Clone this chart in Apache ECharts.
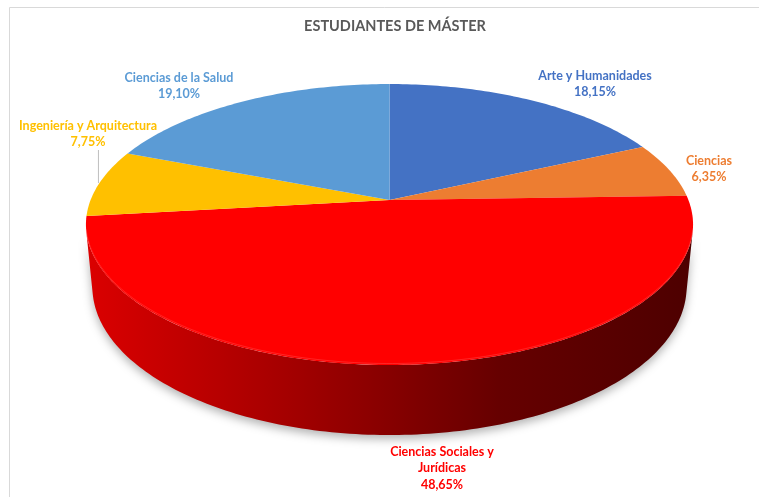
<!DOCTYPE html>
<html>
<head>
<meta charset="utf-8">
<script src="https://cdn.jsdelivr.net/npm/echarts@6/dist/echarts.min.js"></script>
<style>
  html, body { margin: 0; background: #fff; }
  #chart { width: 759px; height: 497px; }
</style>
</head>
<body>
<div id="chart"></div>
<script>
// data
const categories = ['Arte y Humanidades', 'Ciencias', 'Ciencias Sociales y Jurídicas', 'Ingeniería y Arquitectura', 'Ciencias de la Salud'];
const shares = [18.15, 6.35, 48.65, 7.75, 19.10];
const colors = ['#4472C4', '#ED7D31', '#FF0000', '#FFC000', '#5B9BD5'];

// label layout (center x, center y of the text block)
const labelAt = [[595, 84], [709, 169], [442, 468], [88, 134], [179, 86]];
const FONT = 'Lato';

// perspective of the "3D" disc
const cx = 389.5, cy = 200, g = 298.9, sinA = 0.4557, cosA = 0.8901, D = 5.1, depth = 0.236;

function proj(X, Y, Z) {
    const yc = -Y * sinA + Z * cosA;
    const w = 1 - (Y * cosA + Z * sinA) / D;
    return [cx + g * X / w, cy - g * yc / w];
}
// theta in degrees, 0 = back (12 o'clock), clockwise
function rim(theta, Z) {
    const t = theta * Math.PI / 180;
    return proj(Math.sin(t), -Math.cos(t), Z);
}
function shade(hex, f) {
    const n = parseInt(hex.slice(1), 16);
    const r = Math.round(((n >> 16) & 255) * f), gg = Math.round(((n >> 8) & 255) * f), b = Math.round((n & 255) * f);
    return `rgb(${r},${gg},${b})`;
}

const total = shares.reduce((a, b) => a + b, 0);
const starts = [];
shares.reduce((acc, v, i) => { starts[i] = acc; return acc + 360 * v / total; }, 0);

// front-facing part of the cylinder wall
const c0 = 1 / (D * cosA);
const sideFrom = Math.acos(-c0) * 180 / Math.PI, sideTo = 360 - sideFrom;

function arc(a0, a1, Z) {
    const pts = [];
    const n = Math.max(2, Math.ceil((a1 - a0) / 1));
    for (let j = 0; j <= n; j++) pts.push(rim(a0 + (a1 - a0) * j / n, Z));
    return pts;
}

function renderSlice(params, api) {
    const i = params.dataIndex;
    const a0 = starts[i];
    const a1 = a0 + 360 * api.value(0) / total;
    const color = colors[i];
    const children = [];

    const s = Math.max(a0, sideFrom), e = Math.min(a1, sideTo);
    if (e > s) {
        const top = arc(s, e, 0);
        const bottom = arc(s, e, -depth).reverse();
        children.push({
            type: 'polygon',
            z2: 1,
            shape: { points: top.concat(bottom) },
            style: {
                fill: {
                    type: 'linear', x: 87, y: 0, x2: 693, y2: 0, global: true,
                    colorStops: [
                        { offset: 0, color: shade(color, 0.86) },
                        { offset: 0.35, color: shade(color, 0.63) },
                        { offset: 0.68, color: shade(color, 0.40) },
                        { offset: 1, color: shade(color, 0.30) }
                    ]
                },
                shadowBlur: 10,
                shadowColor: 'rgba(0,0,0,0.3)',
                shadowOffsetY: 4
            }
        });
    }

    const face = [proj(0, 0, 0)].concat(arc(a0, a1, 0));
    children.push({
        type: 'polygon',
        z2: 2,
        shape: { points: face },
        style: { fill: color }
    });
    if (e > s) {
        children.push({
            type: 'polyline',
            z2: 3,
            shape: { points: arc(s, e, 0).map(p => [p[0], p[1] - 1.5]) },
            style: { stroke: 'rgba(255,120,120,0.3)', lineWidth: 1, fill: null }
        });
    }

    // label
    const pct = api.value(0).toFixed(2).replace('.', ',') + '%';
    const name = categories[i].replace('y Jurídicas', 'y\nJurídicas');
    children.push({
        type: 'text',
        z2: 5,
        style: {
            text: name + '\n' + pct,
            x: labelAt[i][0], y: labelAt[i][1],
            align: 'center', verticalAlign: 'middle',
            fill: color,
            font: `bold 12.5px ${FONT}`,
            lineHeight: 16.5
        }
    });
    // leader line for the small slice on the left
    if (i === 3) {
        const mid = rim((a0 + a1) / 2, 0);
        children.push({
            type: 'line',
            z2: 4,
            shape: { x1: mid[0] - 1, y1: mid[1], x2: mid[0] - 1, y2: labelAt[i][1] + 16 },
            style: { stroke: '#bfbfbf', lineWidth: 1 }
        });
    }
    return { type: 'group', children };
}

const chart = echarts.init(document.getElementById('chart'));
chart.setOption({
    backgroundColor: '#fff',
    animation: false,
    title: {
        text: 'ESTUDIANTES DE MÁSTER',
        left: 390,
        textAlign: 'center',
        top: 14,
        textStyle: { fontFamily: FONT, fontSize: 14.5, fontWeight: 'bold', color: '#595959' }
    },
    graphic: [{
        type: 'rect',
        shape: { x: 9.5, y: 7.5, width: 800, height: 600 },
        style: { fill: null, stroke: '#d9d9d9', lineWidth: 1 },
        silent: true
    }],
    series: [{
        type: 'custom',
        coordinateSystem: 'none',
        renderItem: renderSlice,
        data: shares
    }]
});
</script>
</body>
</html>
